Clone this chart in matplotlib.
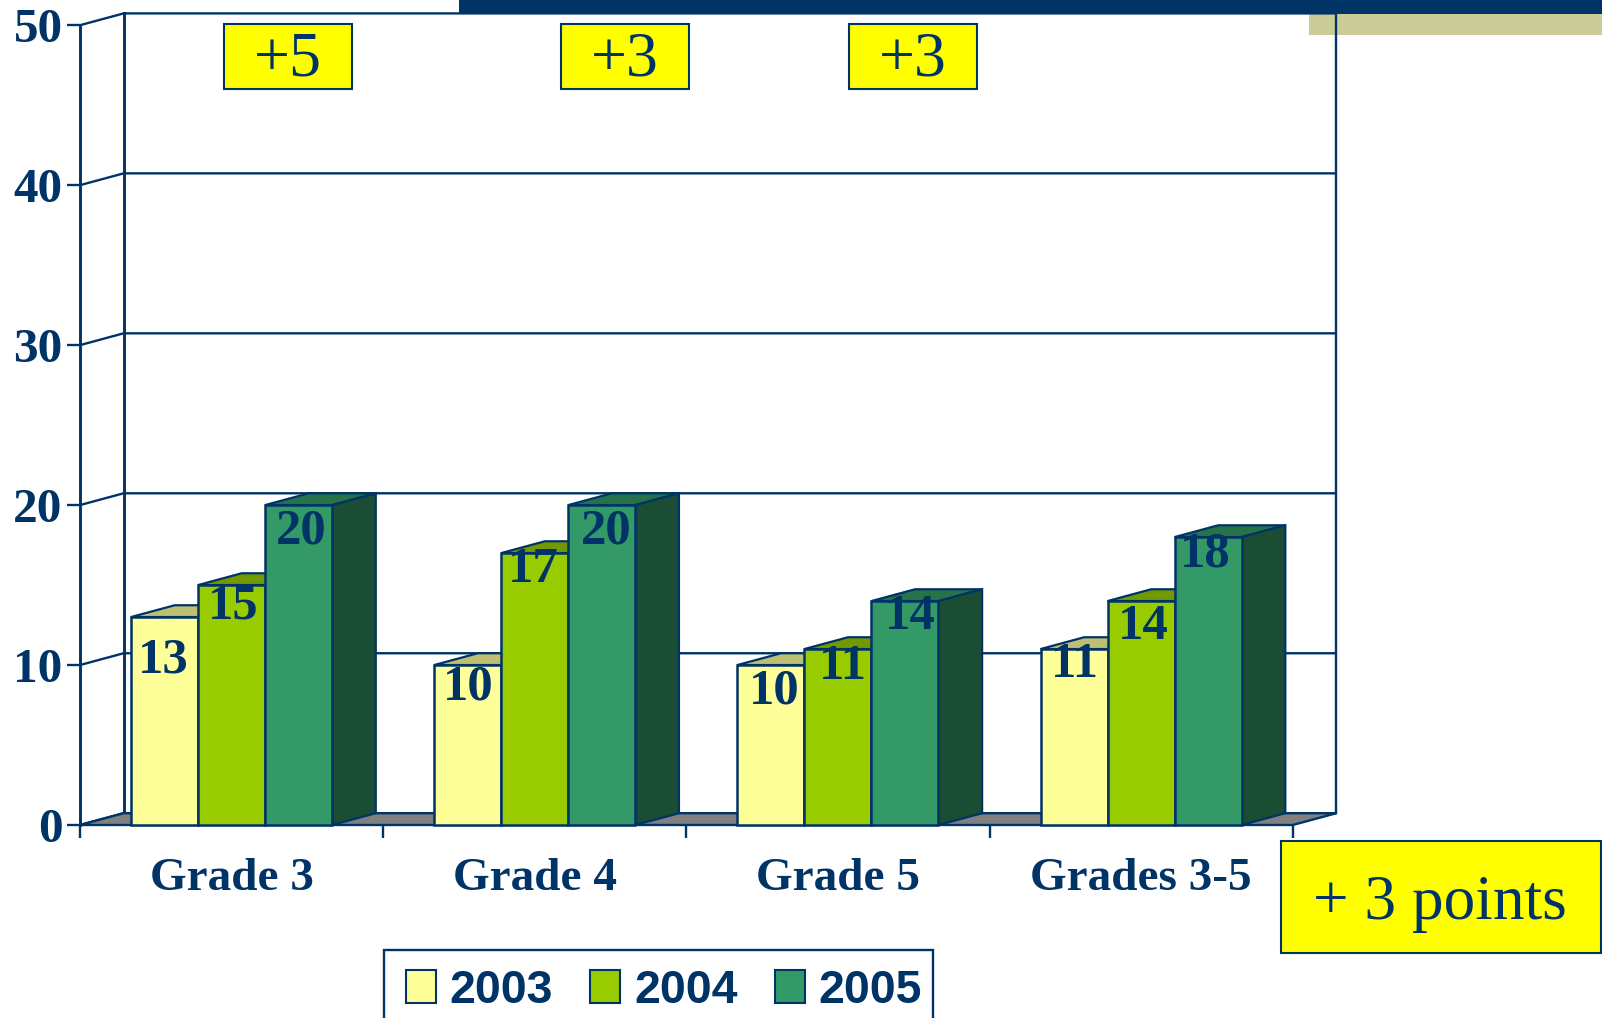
# -*- coding: utf-8 -*-
import matplotlib
matplotlib.use('Agg')
import matplotlib.pyplot as plt
from matplotlib.patches import Rectangle, Patch

# data
categories = ['Grade 3', 'Grade 4', 'Grade 5', 'Grades 3-5']
years = ['2003', '2004', '2005']
values_2003 = [13, 10, 10, 11]
values_2004 = [15, 17, 11, 14]
values_2005 = [20, 20, 14, 18]
yticks = [0, 10, 20, 30, 40, 50]
change_labels = ['+5', '+3', '+3']
total_label = '+ 3 points'

# colours
NAVY = '#003366'
front_colors = ['#FFFF99', '#99CC00', '#339966']
top_colors = ['#BFBF73', '#739900', '#267349']
SIDE = '#1A4D33'

# layout, in pixels of the 1602x1018 picture
W, H = 1602, 1018
X0, X1, Y0, Y50 = 80, 1292.7, 825, 25.2
BAR_W = 67 / 303
DX = 43.6 / 303            # depth of the 3D box in category units
DY = 11.8 / 16             # depth in value units
SERIF = ['Liberation Serif', 'DejaVu Serif']

# label nudges from the bar centre/top, in points (not centred in the original)
nudge_x = [[-1, 1.5, 2.5], [1, -1, 4.5], [3, 5, 5], [1, 2, -2.5]]
nudge_y = [[43, 21, 26], [22, 17, 26], [26, 18, 16], [16, 25, 17]]


def fx(x):
    return x / W


def fy(y):
    return 1 - y / H


fig = plt.figure(figsize=(W / 100, H / 100), dpi=100, facecolor='white')

# slide decoration behind the chart
fig.add_artist(Rectangle((fx(1309), fy(35)), (W - 1309) / W, 22 / H, transform=fig.transFigure,
                         facecolor='#CCCC99', edgecolor='none', zorder=-2))
fig.add_artist(Rectangle((fx(459), fy(14)), (W - 459) / W, 14 / H, transform=fig.transFigure,
                         facecolor=NAVY, edgecolor='none', zorder=-1))

ax = fig.add_axes([fx(X0), fy(Y0), (X1 - X0) / W, (Y0 - Y50) / H])
ax.patch.set_visible(False)
ax.set_xlim(0, len(categories))
ax.set_ylim(0, 50)
for s in ax.spines.values():
    s.set_visible(False)

# walls and grid
n = len(categories)
for v in yticks:
    ax.plot([0, DX, n + DX], [v, v + DY, v + DY], color=NAVY, lw=1.7, clip_on=False, zorder=1,
            solid_capstyle='butt')
ax.plot([DX, DX], [0 + DY, 50 + DY], color=NAVY, lw=2.1, clip_on=False, zorder=1)
ax.plot([n + DX, n + DX], [0 + DY, 50 + DY], color=NAVY, lw=1.7, clip_on=False, zorder=1)
ax.plot([0, 0], [0, 50], color=NAVY, lw=2.1, clip_on=False, zorder=1)

# floor
ax.fill([0, DX, n + DX, n], [0, DY, DY, 0], facecolor='#808080', edgecolor=NAVY, lw=1.7,
        clip_on=False, zorder=2)

# bars, left to right so each one covers the side of the previous one
series = [values_2003, values_2004, values_2005]
z = 3
for i in range(n):
    for j, vals in enumerate(series):
        v = vals[i]
        left = i + 0.5 + (j - 1.5) * BAR_W
        right = left + BAR_W
        ax.fill([left, left + DX, right + DX, right], [v, v + DY, v + DY, v],
                facecolor=top_colors[j], edgecolor=NAVY, lw=1.6, zorder=z, clip_on=False)
        ax.fill([right, right + DX, right + DX, right], [0, DY, v + DY, v],
                facecolor=SIDE, edgecolor=NAVY, lw=1.6, zorder=z, clip_on=False)
        ax.bar(left, v, BAR_W, align='edge', color=front_colors[j], edgecolor=NAVY, lw=1.8,
               zorder=z + 0.5, clip_on=False)
        ax.annotate(str(v), xy=(left + BAR_W / 2, v),
                    xytext=(nudge_x[i][j] * 0.7356, -nudge_y[i][j] * 0.7356),
                    textcoords='offset points', ha='center', va='center', color=NAVY,
                    fontsize=36.5, fontweight='bold', family=SERIF, zorder=40)
        z += 1

# axes ticks
ax.set_yticks(yticks)
ax.set_xticks(range(n + 1))
ax.set_xticklabels([])
ax.set_xticks([i + 0.5 for i in range(n)], minor=True)
ax.set_xticklabels(categories, minor=True, fontsize=34, fontweight='bold', family=SERIF, color=NAVY)
ax.tick_params(axis='x', which='major', length=9, width=1.7, color=NAVY)
ax.tick_params(axis='x', which='minor', length=0, pad=23.5)
ax.tick_params(axis='y', length=9.5, width=1.7, color=NAVY, pad=3)
for t in ax.get_yticklabels():
    t.set_fontsize(35.5)
    t.set_fontweight('bold')
    t.set_family(SERIF)
    t.set_color(NAVY)

# yellow change boxes
change_x = [224, 560.5, 848.5]
for label, bx in zip(change_labels, change_x):
    fig.text(fx(bx + 64), fy(61), label, ha='center', va='center', fontsize=46,
             family=SERIF, color=NAVY, zorder=6)
    fig.add_artist(Rectangle((fx(bx), fy(88.5)), 128 / W, 64.5 / H, transform=fig.transFigure,
                             facecolor='#FFFF00', edgecolor=NAVY, lw=1.5, zorder=5))

fig.add_artist(Rectangle((fx(1280.5), fy(952.5)), 320.5 / W, 111.5 / H, transform=fig.transFigure,
                         facecolor='#FFFF00', edgecolor=NAVY, lw=1.5, zorder=5))
fig.text(fx(1440), fy(919), total_label, ha='center', va='baseline', fontsize=45.5,
         family=SERIF, color=NAVY, zorder=6)

# legend runs off the bottom of the slide, so its frame is a plain box behind it
fig.add_artist(Rectangle((fx(383.7), fy(1030)), (933 - 383.7) / W, 80 / H, transform=fig.transFigure,
                         facecolor='white', edgecolor=NAVY, lw=1.7, zorder=7))
handles = [Patch(facecolor=c, edgecolor=NAVY, lw=1.5) for c in front_colors]
leg = fig.legend(handles, years, loc='upper left', bbox_to_anchor=(fx(406), fy(969)),
                 bbox_transform=fig.transFigure, ncol=3, frameon=False, borderaxespad=0,
                 prop={'family': ['Liberation Sans', 'DejaVu Sans'], 'weight': 'bold', 'size': 33.5},
                 labelcolor=NAVY, handlelength=0.64, handleheight=0.7, handletextpad=0.3,
                 columnspacing=0.8, borderpad=0)
leg.set_zorder(8)

fig.savefig('out.png', dpi=100)
